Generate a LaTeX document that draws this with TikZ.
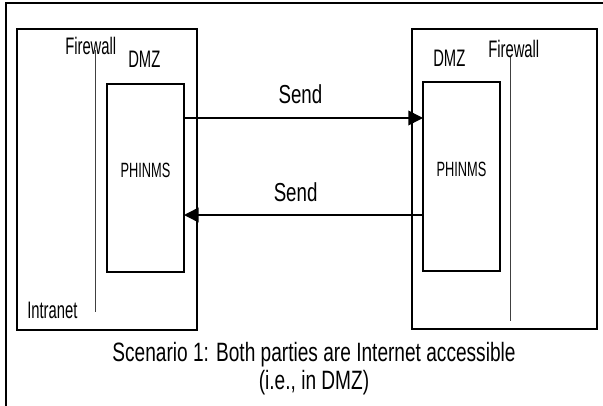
\documentclass[tikz,border=0pt]{standalone}
\usepackage{fontspec}
\setmainfont{Liberation Sans}
\newfontfamily\widefont{Liberation Sans}[FakeStretch=0.72]
\newfontfamily\narrowfont{Liberation Sans}[FakeStretch=0.62]
\usepackage{tikz}
\usetikzlibrary{
  arrows.meta,
  positioning,
  fit
}

\begin{document}
\begin{tikzpicture}[
    x=0.75pt, y=-0.75pt,
    frame/.style={line width=1.5pt},
    hostbox/.style={draw, line width=0.9pt, inner sep=0pt, outer sep=0pt},
    phinms/.style={draw, line width=1.2pt, inner sep=0pt, outer sep=0pt,
                   font=\narrowfont\fontsize{15.5pt}{17pt}\selectfont},
    wall/.style={line width=0.7pt, black!75},
    zone/.style={font=\narrowfont\fontsize{17.9pt}{20pt}\selectfont,
                 anchor=base west, inner sep=0pt},
    msg/.style={-{Triangle[length=11pt, width=11pt]}, line width=1.2pt},
    msglabel/.style={font=\widefont\fontsize{19.5pt}{21pt}\selectfont,
                     inner sep=0pt},
    caption/.style={font=\widefont\fontsize{19.9pt}{21pt}\selectfont,
                    align=center, anchor=base, inner sep=0pt},
  ]
  \useasboundingbox (0,0) rectangle (603,406);

  % Outer frame
  \draw[frame] (6,406) -- (6,3) -- (603,3);

  % Hosts
  \node[hostbox, fit={(17,29) (197,330)}] (lefthost) {};
  \node[hostbox, fit={(412,29) (597,329)}] (righthost) {};

  % PHINMS servers in the DMZ
  \node[phinms, fit={(107,84) (184,272)}] (leftphinms) {PHINMS};
  \node[phinms, fit={(423,82) (500,271)}] (rightphinms) {PHINMS};

  % Firewalls
  \coordinate (leftwalltop) at (95,50);
  \coordinate (leftwallend) at (95,312);
  \coordinate (rightwalltop) at (510,56);
  \coordinate (rightwallend) at (510,321);
  \draw[wall] (leftwalltop) -- (leftwallend);
  \draw[wall] (rightwalltop) -- (rightwallend);

  % Zone labels
  \node[zone] (leftfw) at (65,55) {Firewall};
  \node[zone] (leftdmz) at (128,68) {DMZ};
  \node[zone] (intranet) at (27,318) {Intranet};
  \node[zone] (rightdmz) at (433,67) {DMZ};
  \node[zone] (rightfw) at (488,58) {Firewall};

  % Messages
  \coordinate (outlevel) at (0,118);
  \coordinate (backlevel) at (0,215);
  \draw[msg] (leftphinms.east |- outlevel) -- node[msglabel, pos=0.487,
    above=10pt] (sendout) {Send} (rightphinms.west |- outlevel);
  \draw[msg] (rightphinms.west |- backlevel) -- node[msglabel, pos=0.533,
    above=9pt] (sendback) {Send} (leftphinms.east |- backlevel);

  % Caption (base is the last line)
  \node[caption] (scenario) at (314,389)
    {Scenario 1: Both parties are Internet accessible\\(i.e., in DMZ)};

\end{tikzpicture}
\end{document}
